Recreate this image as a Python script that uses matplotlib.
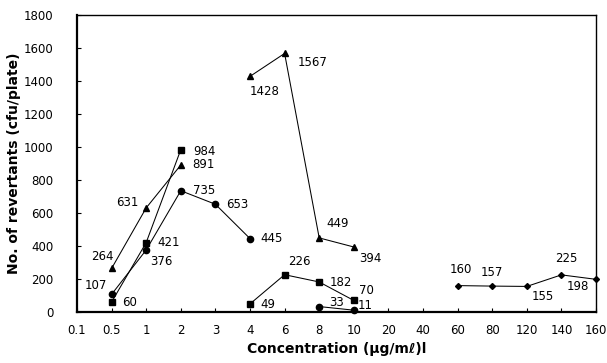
import matplotlib
matplotlib.use("Agg")
import matplotlib.pyplot as plt
import numpy as np

plt.rcParams['font.family'] = ['DejaVu Sans']

# x axis is categorical: one slot per concentration
conc_labels = ['0.1', '0.5', '1', '2', '3', '4', '6', '8', '10', '20', '40', '60', '80', '120', '140', '160']

# triangles
tri_a_x = ['0.5', '1', '2']
tri_a_y = [264, 631, 891]
tri_b_x = ['4', '6', '8', '10']
tri_b_y = [1428, 1567, 449, 394]

# squares
sq_a_x = ['0.5', '1', '2']
sq_a_y = [60, 421, 984]
sq_b_x = ['4', '6', '8', '10']
sq_b_y = [49, 226, 182, 70]

# circles
ci_a_x = ['0.5', '1', '2', '3', '4']
ci_a_y = [107, 376, 735, 653, 445]
ci_b_x = ['8', '10']
ci_b_y = [33, 11]

# diamonds
di_x = ['60', '80', '120', '140', '160']
di_y = [160, 157, 155, 225, 198]

# label offsets in pixels (dx, dy), same order as the points
tri_a_off = [(-9, 12), (-19, 5), (23, 0)]
tri_b_off = [(15, -15), (28, -9), (18, 14), (17, -12)]
sq_a_off = [(18, 0), (22, 0), (24, -2)]
sq_b_off = [(18, -1), (15, 13), (22, -1), (13, 10)]
ci_a_off = [(-16, 9), (15, -12), (23, 0), (22, 0), (22, 0)]
ci_b_off = [(17, 4), (11, 5)]
di_off = [(3, 16), (0, 14), (16, -10), (5, 16), (-18, -7)]

pos = {c: i for i, c in enumerate(conc_labels)}

fig = plt.figure(figsize=(6.07, 3.63), dpi=100)
ax = fig.add_axes([77/607, 1-312/363, (596-77)/607, (312-15)/363])


def series(xs, ys, marker, ms, offs):
    xi = [pos[c] for c in xs]
    ax.plot(xi, ys, color='black', lw=0.75, marker=marker, ms=ms,
            markerfacecolor='black', markeredgecolor='black', clip_on=False)
    for x, y, (dx, dy) in zip(xi, ys, offs):
        ax.annotate(str(y), (x, y), xytext=(dx, dy), textcoords='offset pixels',
                    ha='center', va='center', fontsize=8.5)


series(tri_a_x, tri_a_y, '^', 5, tri_a_off)
series(tri_b_x, tri_b_y, '^', 5, tri_b_off)
series(sq_a_x, sq_a_y, 's', 4.5, sq_a_off)
series(sq_b_x, sq_b_y, 's', 4.5, sq_b_off)
series(ci_a_x, ci_a_y, 'o', 4.5, ci_a_off)
series(ci_b_x, ci_b_y, 'o', 4.5, ci_b_off)
series(di_x, di_y, 'D', 3, di_off)

ax.set_xlim(0, len(conc_labels) - 1)
ax.set_ylim(0, 1800)
ax.set_xticks(np.arange(len(conc_labels)))
ax.set_xticklabels(conc_labels)
ax.set_yticks(np.arange(0, 1801, 200))
ax.tick_params(direction='in', length=3, labelsize=8.5, pad=9)
ax.tick_params(axis='y', pad=17)

for s in ['left', 'bottom']:
    ax.spines[s].set_linewidth(1.6)
for s in ['top', 'right']:
    ax.spines[s].set_linewidth(1.0)

ax.set_ylabel('No. of revertants (cfu/plate)', fontsize=10, fontweight='bold', labelpad=2)
ax.set_xlabel('Concentration (\u03bcg/m\u2113)l', fontsize=10, fontweight='bold', labelpad=3)

fig.savefig('out.png', dpi=100)
